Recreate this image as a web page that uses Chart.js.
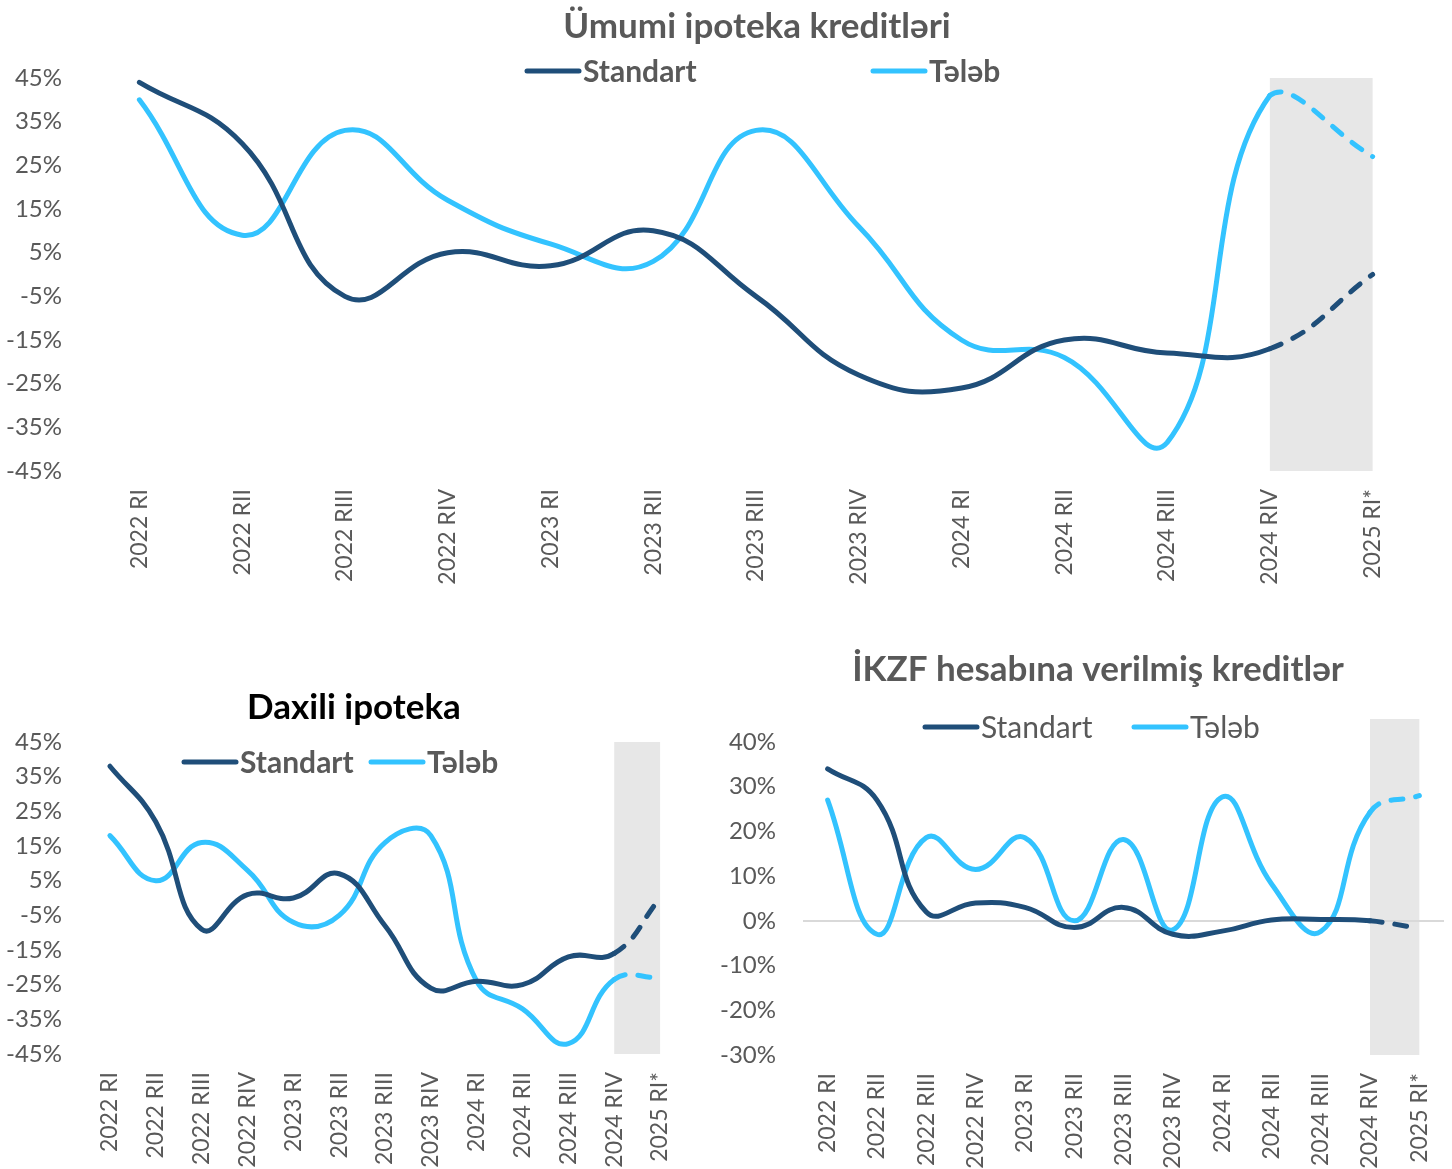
<!DOCTYPE html>
<html>
<head>
<meta charset="utf-8">
<script src="https://cdn.jsdelivr.net/npm/chart.js@4.4.1/dist/chart.umd.min.js"></script>
<style>
  html, body { margin: 0; padding: 0; background: #fff; }
  body { width: 1452px; height: 1169px; position: relative; overflow: hidden; }
  .box { position: absolute; }
</style>
</head>
<body>
<div class="box" style="left:0;top:0;width:1452px;height:600px"><canvas id="umumi"></canvas></div>
<div class="box" style="left:0;top:640px;width:700px;height:529px"><canvas id="daxili"></canvas></div>
<div class="box" style="left:700px;top:640px;width:752px;height:529px"><canvas id="ikzf"></canvas></div>
<script>
// quarters
const categories = ['2022 RI', '2022 RII', '2022 RIII', '2022 RIV', '2023 RI', '2023 RII', '2023 RIII',
  '2023 RIV', '2024 RI', '2024 RII', '2024 RIII', '2024 RIV', '2025 RI*'];

// Ümumi ipoteka kreditləri
const umumiStandart = [44, 30, -5, 5, 2, 10, -5, -23, -26, -15, -18, -17, 0];
const umumiTeleb = [40, 9, 33, 17, 7, 3, 33, 11, -15, -19, -38.5, 41, 27];
const umumiTicks = [45, 35, 25, 15, 5, -5, -15, -25, -35, -45];

// Daxili ipoteka
const daxiliStandart = [38, 22, -9, 1, 0, 7, -8, -26, -24, -25, -17, -16, 0];
const daxiliTeleb = [18, 5, 16, 8, -7, -5, 16, 18, -24, -32, -42, -23.5, -23];
const daxiliTicks = [45, 35, 25, 15, 5, -5, -15, -25, -35, -45];

// İKZF hesabına verilmiş kreditlər
const ikzfStandart = [34, 27, 2, 4, 3, -1.5, 3, -3, -2.3, 0.2, 0.3, 0, -1.7];
const ikzfTeleb = [27, -3, 18.6, 11.5, 18.6, 0, 18.2, -2, 27.7, 8.3, -2.4, 24.3, 28];
const ikzfTicks = [40, 30, 20, 10, 0, -10, -20, -30];

// forecast part (last segment dashed, shaded)
const forecastFrom = '2024 RIV';
const forecastTo = '2025 RI*';

const dark = '#1F4E79';
const light = '#33C3FF';
const grey = '#595959';

const shadePlugin = {
  id: 'shade',
  beforeDraw(chart, args, opts) {
    const { ctx, chartArea, scales: { x } } = chart;
    const x0 = x.getPixelForValue(categories.indexOf(forecastFrom));
    const x1 = x.getPixelForValue(categories.indexOf(forecastTo));
    const top = chartArea.top - (opts.extraTop || 0);
    ctx.save();
    ctx.fillStyle = '#E7E7E7';
    ctx.fillRect(x0, top, x1 - x0, chartArea.bottom - top);
    ctx.restore();
  }
};

// title + line legend drawn on the canvas
const headerPlugin = {
  id: 'header',
  afterDraw(chart, args, opts) {
    const ctx = chart.ctx;
    ctx.save();
    ctx.textBaseline = 'middle';
    ctx.textAlign = 'center';
    ctx.font = 'bold 35px Lato';
    ctx.fillStyle = opts.titleColor;
    ctx.fillText(opts.title, opts.titleX, opts.titleY);
    ctx.textAlign = 'left';
    ctx.font = opts.legendFont;
    chart.data.datasets.forEach((ds, i) => {
      const x = opts.legendX[i];
      ctx.strokeStyle = ds.borderColor;
      ctx.lineWidth = 5;
      ctx.lineCap = 'round';
      ctx.beginPath();
      ctx.moveTo(x, opts.legendY);
      ctx.lineTo(x + 52, opts.legendY);
      ctx.stroke();
      ctx.fillStyle = grey;
      ctx.fillText(ds.label, x + 56, opts.legendY + 1);
    });
    ctx.restore();
  }
};

function lineSet(label, data, color) {
  return {
    label: label,
    data: data,
    borderColor: color,
    backgroundColor: color,
    borderWidth: 5,
    borderCapStyle: 'round',
    borderJoinStyle: 'round',
    pointRadius: 0,
    tension: 0.45,
    segment: {
      borderDash: ctx => ctx.p0DataIndex >= categories.indexOf(forecastFrom) ? [12, 13] : undefined
    }
  };
}

function makeChart(id, s, t, ticks, cfg) {
  new Chart(document.getElementById(id).getContext('2d'), {
    type: 'line',
    data: {
      labels: categories,
      datasets: [lineSet('Standart', s, dark), lineSet('Tələb', t, light)]
    },
    options: {
      responsive: true,
      maintainAspectRatio: false,
      animation: false,
      layout: { padding: { left: 0, right: cfg.right, top: cfg.top, bottom: 0 } },
      plugins: {
        legend: { display: false },
        tooltip: { enabled: false },
        title: { display: false },
        header: cfg.header,
        shade: { extraTop: cfg.shadeExtra || 0 }
      },
      scales: {
        x: {
          offset: true,
          grid: { display: false, drawTicks: false },
          border: { display: false },
          ticks: {
            color: grey, font: { family: 'Lato', size: 23 }, autoSkip: false,
            minRotation: 90, maxRotation: 90, padding: 18
          },
          afterFit: scale => {
            scale.height = cfg.xHeight;
            scale.paddingLeft = 0;
            scale.paddingRight = 0;
          }
        },
        y: {
          min: ticks[ticks.length - 1],
          max: ticks[0],
          afterBuildTicks: scale => { scale.ticks = ticks.map(v => ({ value: v })); },
          grid: {
            drawTicks: false,
            lineWidth: 2,
            color: c => c.tick && c.tick.value === 0 ? '#D9D9D9' : 'rgba(0,0,0,0)'
          },
          border: { display: false },
          ticks: {
            color: grey, font: { family: 'Lato', size: 24 }, padding: cfg.yPad,
            callback: v => v + '%'
          },
          afterFit: scale => { scale.width = cfg.yWidth; }
        }
      }
    },
    plugins: [shadePlugin, headerPlugin]
  });
}

makeChart('umumi', umumiStandart, umumiTeleb, umumiTicks, {
  header: {
    title: 'Ümumi ipoteka kreditləri', titleColor: grey, titleX: 757, titleY: 27,
    legendY: 71, legendX: [527, 873], legendFont: 'bold 30px Lato'
  },
  top: 78, right: 28, xHeight: 129, yWidth: 88, yPad: 26
});

makeChart('daxili', daxiliStandart, daxiliTeleb, daxiliTicks, {
  header: {
    title: 'Daxili ipoteka', titleColor: '#000', titleX: 354, titleY: 68,
    legendY: 122, legendX: [184, 371], legendFont: 'bold 30px Lato'
  },
  top: 102, right: 17, xHeight: 115, yWidth: 87, yPad: 25
});

makeChart('ikzf', ikzfStandart, ikzfTeleb, ikzfTicks, {
  header: {
    title: 'İKZF hesabına verilmiş kreditlər', titleColor: grey, titleX: 398, titleY: 30,
    legendY: 87, legendX: [225, 434], legendFont: '30px Lato'
  },
  top: 102, right: 8, xHeight: 114, yWidth: 103, yPad: 27, shadeExtra: 23
});
</script>
</body>
</html>
